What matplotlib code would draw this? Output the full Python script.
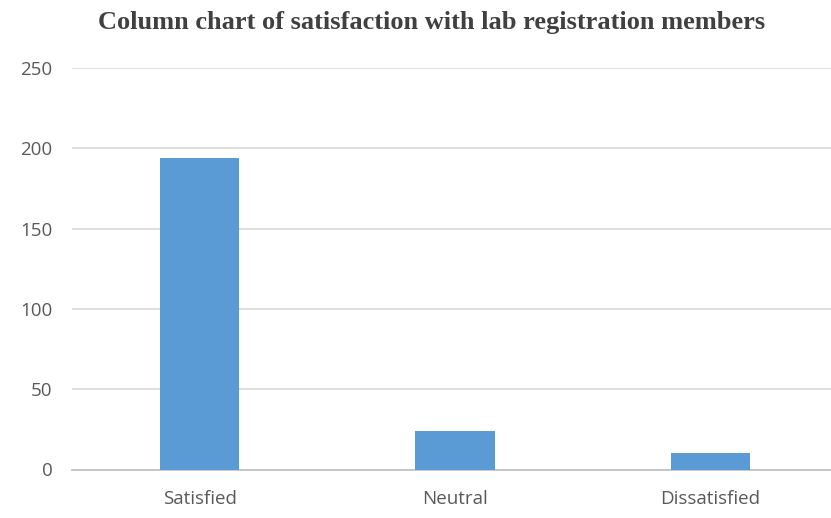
import matplotlib.pyplot as plt

# satisfaction survey counts
categories = ['Satisfied', 'Neutral', 'Dissatisfied']
counts = [194, 24, 10]
y_ticks = [0, 50, 100, 150, 200, 250]

fig = plt.figure(figsize=(8.31, 5.18), dpi=100)
ax = fig.add_axes([72 / 831, 48.5 / 518, 766 / 831, 401.5 / 518])

ax.bar(range(len(categories)), counts, width=0.31, color='#5b9bd5', zorder=3)

ax.set_xlim(-0.5, 2.5)
ax.set_ylim(0, 250)
ax.set_yticks(y_ticks)
ax.set_xticks(range(len(categories)))
ax.set_xticklabels(categories)
ax.yaxis.grid(True, color='#d9d9d9', linewidth=1.2, zorder=0)
ax.tick_params(length=0, labelsize=13.5, labelcolor='#595959')
ax.tick_params(axis='y', pad=14)
ax.tick_params(axis='x', pad=15)
for lab in ax.get_xticklabels() + ax.get_yticklabels():
    lab.set_family('Open Sans')

for side in ['top', 'right', 'left']:
    ax.spines[side].set_visible(False)
ax.spines['bottom'].set_color('#bfbfbf')
ax.spines['bottom'].set_linewidth(1.2)

fig.text(432 / 831, 1 - 22 / 518, 'Column chart of satisfaction with lab registration members',
         ha='center', va='center', fontsize=19, fontweight='bold',
         family='Liberation Serif', color='#404040')

fig.savefig('out.png', dpi=100)
